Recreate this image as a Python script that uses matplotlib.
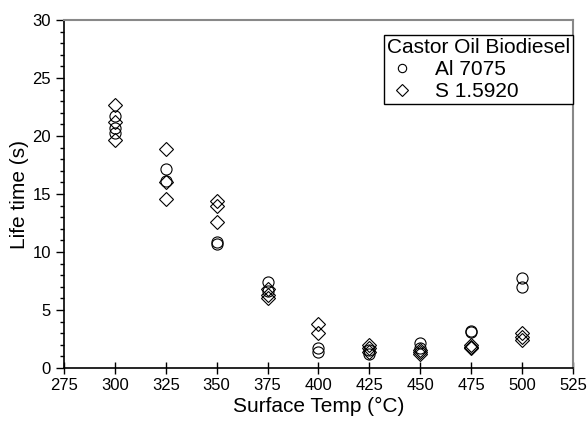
import numpy as np
import matplotlib
matplotlib.use('Agg')
from matplotlib import pyplot as plt
from matplotlib.ticker import MultipleLocator

plt.rcParams['font.family'] = ['Liberation Sans', 'DejaVu Sans']

# Al 7075 (circles)
al_temp = [300, 300, 300, 325, 325, 350, 350, 375, 375, 400, 400,
           425, 425, 450, 450, 475, 475, 500, 500]
al_life = [21.7, 20.7, 20.3, 17.2, 16.1, 10.9, 10.7, 7.4, 6.6, 1.7, 1.4,
           1.6, 1.2, 2.2, 1.7, 3.2, 3.1, 7.8, 7.0]

# S 1.5920 (diamonds)
s_temp = [300, 300, 300, 325, 325, 325, 350, 350, 350, 375, 375, 375,
          400, 400, 425, 425, 425, 450, 450, 450, 475, 475, 475, 500, 500, 500]
s_life = [22.7, 21.2, 19.7, 18.9, 16.0, 14.6, 14.4, 14.0, 12.6, 6.8, 6.3, 6.0,
          3.8, 3.0, 2.0, 1.7, 1.4, 1.6, 1.4, 1.2, 2.0, 1.8, 1.7, 3.0, 2.7, 2.4]

fig = plt.figure(figsize=(5.87, 4.26), dpi=100)
ax = fig.add_axes([0.109, 0.136, 0.867, 0.817])

ax.plot(al_temp, al_life, linestyle='none', marker='o', markersize=8,
        fillstyle='none', markeredgecolor='black', markeredgewidth=0.8, label='Al 7075')
ax.plot(s_temp, s_life, linestyle='none', marker='D', markersize=7.5,
        fillstyle='none', markeredgecolor='black', markeredgewidth=0.8, label='S 1.5920')

ax.set_xlim(275, 525)
ax.set_ylim(0, 30)
ax.xaxis.set_major_locator(MultipleLocator(25))
ax.yaxis.set_major_locator(MultipleLocator(5))
ax.yaxis.set_minor_locator(MultipleLocator(1))
ax.tick_params(axis='x', which='major', direction='inout', length=8, width=1, labelsize=12, pad=3)
ax.tick_params(axis='y', which='major', direction='out', length=6, width=1, labelsize=12)
ax.tick_params(axis='y', which='minor', direction='out', length=3, width=1)
for side in ['top', 'right']:
    ax.spines[side].set_color('#888888')
    ax.spines[side].set_linewidth(1.5)
for side in ['left', 'bottom']:
    ax.spines[side].set_linewidth(1.2)

ax.set_xlabel('Surface Temp (°C)', fontsize=15, labelpad=3)
ax.set_ylabel('Life time (s)', fontsize=15, labelpad=2)

leg = ax.legend(title='Castor Oil Biodiesel', loc='upper right',
                bbox_to_anchor=(1.0, 0.957), fontsize=15, title_fontsize=15,
                fancybox=False, edgecolor='black', framealpha=1,
                handletextpad=0.8, borderpad=0.15, labelspacing=0.15,
                handlelength=1.5, markerscale=0.75, borderaxespad=0)
leg.get_frame().set_linewidth(1.0)
leg._legend_box.align = 'left'

fig.savefig('out.png', dpi=100)
